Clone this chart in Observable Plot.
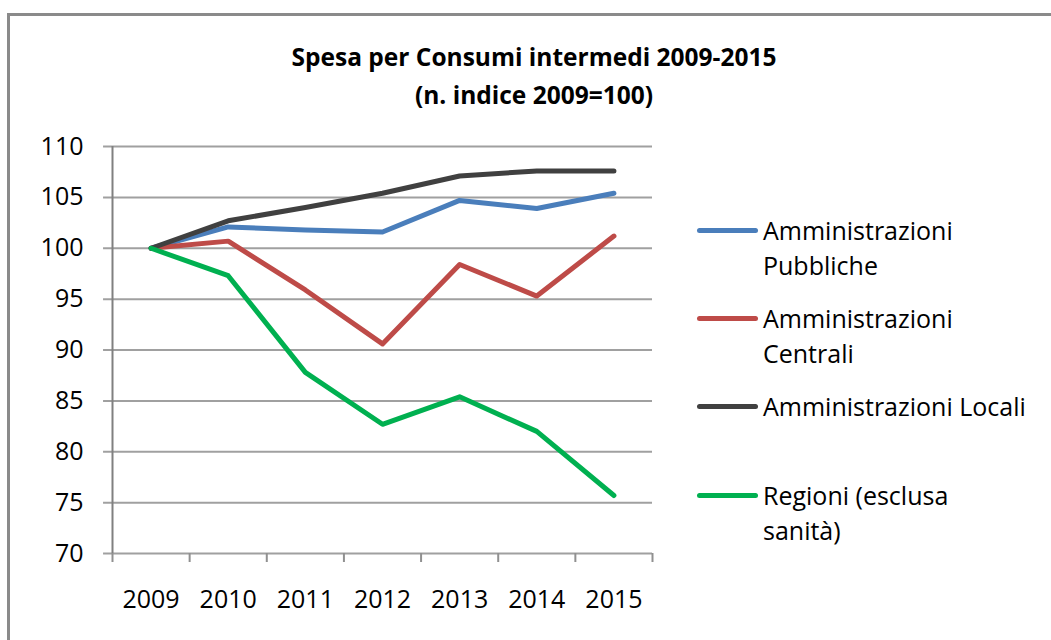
<!DOCTYPE html>
<html>
<head>
<meta charset="utf-8">
<script src="https://cdn.jsdelivr.net/npm/d3@7"></script>
<script src="https://cdn.jsdelivr.net/npm/@observablehq/plot@0.6"></script>
<style>
  html, body { margin: 0; padding: 0; background: #fff; }
  #wrap { position: relative; width: 1051px; height: 640px; overflow: hidden; font-family: "Open Sans", sans-serif; }
  #frame { position: absolute; left: 7px; top: 13px; width: 1100px; height: 700px; border-left: 3px solid #8a8a8a; border-top: 3px solid #8a8a8a; }
  #title { position: absolute; left: 0; width: 1068px; top: 38px; text-align: center; font-weight: bold; font-size: 24.5px; line-height: 38px; color: #000; }
  #chart { position: absolute; left: 0; top: 0; }
  #legend { position: absolute; left: 697px; top: 0; }
  .item { position: absolute; left: 0; width: 340px; }
  .swatch { position: absolute; left: 0; width: 61px; height: 5px; border-radius: 3px; }
  .label { position: absolute; left: 66px; font-size: 25px; line-height: 35px; color: #000; white-space: nowrap; }
</style>
</head>
<body>
<div id="wrap">
  <div id="frame"></div>
  <div id="title">Spesa per Consumi intermedi 2009-2015<br>(n. indice 2009=100)</div>
  <div id="chart"></div>
  <div id="legend"></div>
</div>
<script>
const years = [2009, 2010, 2011, 2012, 2013, 2014, 2015];
const seriesNames = [
  "Amministrazioni Pubbliche",
  "Amministrazioni Centrali",
  "Amministrazioni Locali",
  "Regioni (esclusa sanità)"
];
const legendLines = [
  ["Amministrazioni", "Pubbliche"],
  ["Amministrazioni", "Centrali"],
  ["Amministrazioni Locali"],
  ["Regioni (esclusa", "sanità)"]
];
const colors = ["#4A7EBB", "#BE4B48", "#404040", "#00B050"];
const pubbliche = [100, 102.1, 101.8, 101.6, 104.7, 103.9, 105.4];
const centrali  = [100, 100.7, 95.9, 90.6, 98.4, 95.3, 101.2];
const locali    = [100, 102.7, 104.0, 105.4, 107.1, 107.6, 107.6];
const regioni   = [100, 97.3, 87.8, 82.7, 85.4, 82.0, 75.7];
const yTicks = [70, 75, 80, 85, 90, 95, 100, 105, 110];

const allSeries = [pubbliche, centrali, locali, regioni];
const data = [];
allSeries.forEach((vals, si) => {
  vals.forEach((v, i) => data.push({ year: years[i], value: v, series: seriesNames[si] }));
});
const boundaries = [years[0] - 0.5, ...years.map(y => y + 0.5)];

const chart = Plot.plot({
  width: 680,
  height: 640,
  marginLeft: 112,
  marginRight: 28,
  marginTop: 146,
  marginBottom: 87,
  style: { fontFamily: "Open Sans, sans-serif", fontSize: "25px", color: "#000", background: "transparent", overflow: "visible" },
  x: { domain: [years[0] - 0.5, years[years.length - 1] + 0.5] },
  y: { domain: [70, 110] },
  color: { domain: seriesNames, range: colors },
  marks: [
    Plot.ruleY(yTicks, { x1: years[0] - 0.5 - 0.116, x2: years[years.length - 1] + 0.5, stroke: "#a0a0a0", strokeWidth: 2 }),
    Plot.ruleX([years[0] - 0.5], { y1: 70, y2: 110, stroke: "#808080", strokeWidth: 2 }),
    Plot.axisY({ ticks: yTicks, tickSize: 0, tickPadding: 29, label: null, fontSize: 25 }),
    Plot.axisX({ ticks: boundaries, tickFormat: () => "", tickSize: 9, stroke: "#909090", strokeWidth: 2, label: null }),
    Plot.axisX({ ticks: years, tickFormat: d => String(d), tickSize: 0, tickPadding: 37, label: null, fontSize: 25 }),
    Plot.line(data, { x: "year", y: "value", z: "series", stroke: "series", strokeWidth: 5, strokeLinecap: "round", strokeLinejoin: "round" })
  ]
});
document.getElementById("chart").appendChild(chart);

const legendY = [230, 318, 406, 495];
const legend = document.getElementById("legend");
seriesNames.forEach((name, i) => {
  const item = document.createElement("div");
  item.className = "item";
  item.style.top = legendY[i] + "px";
  const sw = document.createElement("div");
  sw.className = "swatch";
  sw.style.background = colors[i];
  sw.style.top = "-2.5px";
  item.appendChild(sw);
  legendLines[i].forEach((line, j) => {
    const lab = document.createElement("div");
    lab.className = "label";
    lab.style.top = (-17.5 + j * 35) + "px";
    lab.textContent = line;
    item.appendChild(lab);
  });
  legend.appendChild(item);
});
</script>
</body>
</html>
